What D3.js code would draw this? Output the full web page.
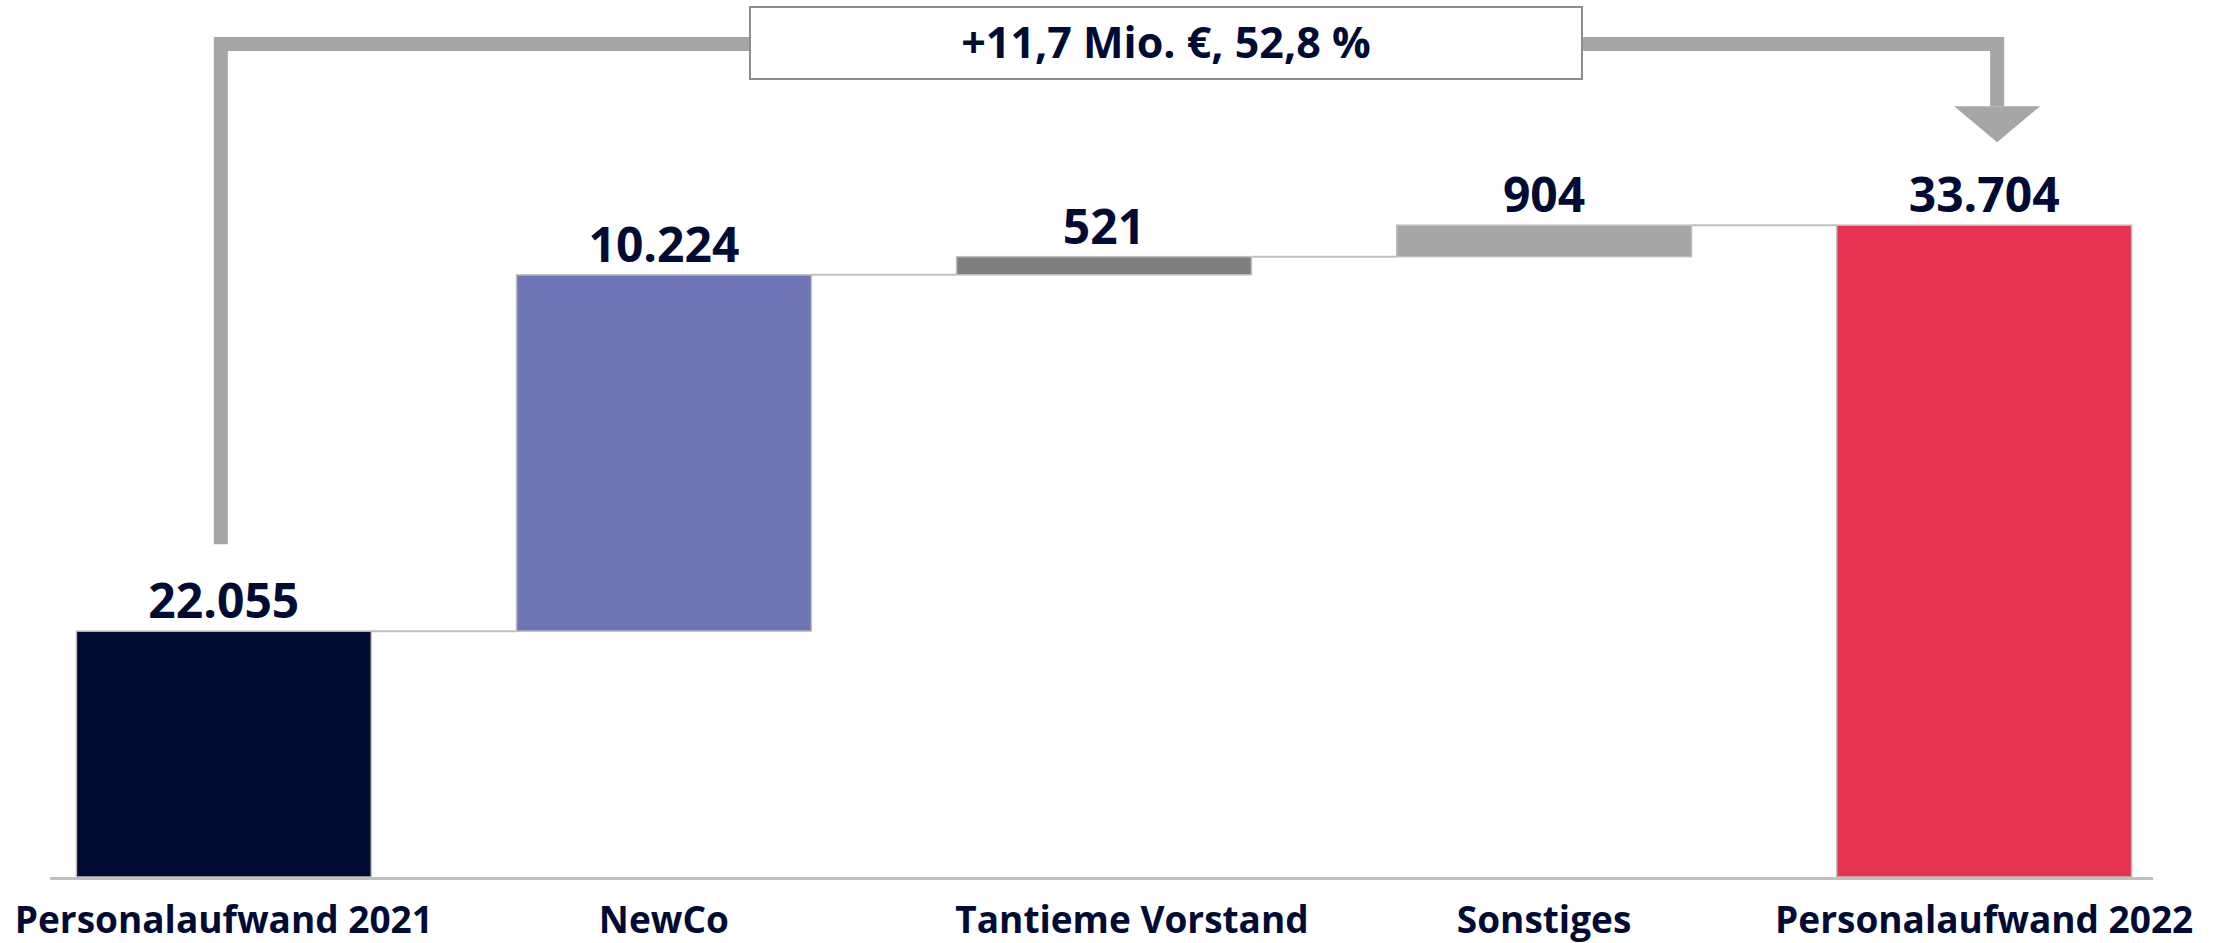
<!DOCTYPE html>
<html>
  <head>
    <meta charset="utf-8">
    <title>Personalaufwand 2021 - 2022</title>
    <script src="https://d3js.org/d3.v7.min.js"></script>
    <style>
      body { margin: 0; background: #fff; }
      text { font-family: "Open Sans", "Noto Sans", sans-serif; font-weight: 700; fill: #020b33; }
    </style>
  </head>
  <body>
    <div id="chart"></div>
    <script>
      // chart data
      var categories = ["Personalaufwand 2021", "NewCo", "Tantieme Vorstand", "Sonstiges", "Personalaufwand 2022"];
      var values = [22055, 10224, 521, 904, 33704];
      var kinds = ["total", "delta", "delta", "delta", "total"];
      var colors = ["#020b33", "#6e75b4", "#7f7f7f", "#a6a6a6", "#e63351"];
      var yDomain = [15000, 35000];
      var changeLabel = "+11,7 Mio. €, 52,8 %";

      var width = 2218;
      var height = 943;

      var de = d3.formatLocale({ decimal: ",", thousands: ".", grouping: [3], currency: ["", " €"] });
      var fmt = de.format(",");

      // running totals for the waterfall
      var running = 0;
      var bars = categories.map(function(c, i) {
        var start, end;
        if (kinds[i] === "total") {
          start = yDomain[0];
          end = values[i];
          running = values[i];
        } else {
          start = running;
          end = running + values[i];
          running = end;
        }
        return { name: c, value: values[i], start: start, end: end, color: colors[i] };
      });

      var svg = d3.select("#chart")
        .append("svg")
        .attr("width", width)
        .attr("height", height);

      var x = d3.scaleBand()
        .domain(categories)
        .range([50, 2158])
        .paddingInner(0.33)
        .paddingOuter(0.06);

      var y = d3.scaleLinear()
        .domain(yDomain)
        .range([877, 180]);

      // connector lines between bars
      for (var i = 0; i < bars.length - 1; i++) {
        var lvl = bars[i].end;
        svg.append("line")
          .attr("x1", x(bars[i].name) + x.bandwidth())
          .attr("x2", x(bars[i + 1].name))
          .attr("y1", y(lvl))
          .attr("y2", y(lvl))
          .attr("stroke", "#bfbfbf")
          .attr("stroke-width", 2);
      }

      svg.selectAll("rect.bar")
        .data(bars)
        .enter()
        .append("rect")
        .attr("class", "bar")
        .attr("x", function(d) { return x(d.name); })
        .attr("width", x.bandwidth())
        .attr("y", function(d) { return y(Math.max(d.start, d.end)); })
        .attr("height", function(d) { return Math.abs(y(d.start) - y(d.end)); })
        .attr("fill", function(d) { return d.color; })
        .attr("stroke", "#bfbfbf")
        .attr("stroke-width", 1.5);

      // baseline
      svg.append("line")
        .attr("x1", 50)
        .attr("x2", 2153)
        .attr("y1", y(yDomain[0]) + 1.5)
        .attr("y2", y(yDomain[0]) + 1.5)
        .attr("stroke", "#bfbfbf")
        .attr("stroke-width", 3);

      // value labels
      svg.selectAll("text.value")
        .data(bars)
        .enter()
        .append("text")
        .attr("class", "value")
        .attr("x", function(d) { return x(d.name) + x.bandwidth() / 2; })
        .attr("y", function(d) { return y(Math.max(d.start, d.end)) - 13; })
        .attr("text-anchor", "middle")
        .style("font-size", "48px")
        .text(function(d) { return fmt(d.value); });

      // category labels (the long middle one sits a bit to the right in the original)
      svg.selectAll("text.cat")
        .data(categories)
        .enter()
        .append("text")
        .attr("class", "cat")
        .attr("x", function(d) { return x(d) + x.bandwidth() / 2; })
        .attr("dx", function(d, i) { return i === 2 ? 28 : 0; })
        .attr("y", 933)
        .attr("text-anchor", "middle")
        .style("font-size", "37px")
        .text(function(d) { return d; });

      // change arrow from first to last total
      var first = bars[0], last = bars[bars.length - 1];
      var xa = x(first.name) + x.bandwidth() / 2 - 3;
      var xb = x(last.name) + x.bandwidth() / 2 + 13;
      var topY = 44;
      var arrowTip = y(last.end) - 83;

      svg.append("path")
        .attr("d", "M" + xa + "," + (y(first.end) - 87) + " V" + topY + " H" + xb + " V" + (arrowTip - 36))
        .attr("fill", "none")
        .attr("stroke", "#a6a6a6")
        .attr("stroke-width", 14);

      svg.append("path")
        .attr("d", "M" + (xb - 43) + "," + (arrowTip - 36) + " L" + (xb + 43) + "," + (arrowTip - 36) + " L" + xb + "," + arrowTip + " Z")
        .attr("fill", "#a6a6a6");

      svg.append("rect")
        .attr("x", 750)
        .attr("y", 7)
        .attr("width", 832)
        .attr("height", 72)
        .attr("fill", "#fff")
        .attr("stroke", "#8c8c8c")
        .attr("stroke-width", 2);

      svg.append("text")
        .attr("x", 1166)
        .attr("y", 58)
        .attr("text-anchor", "middle")
        .style("font-size", "43px")
        .text(changeLabel);
    </script>
  </body>
</html>
